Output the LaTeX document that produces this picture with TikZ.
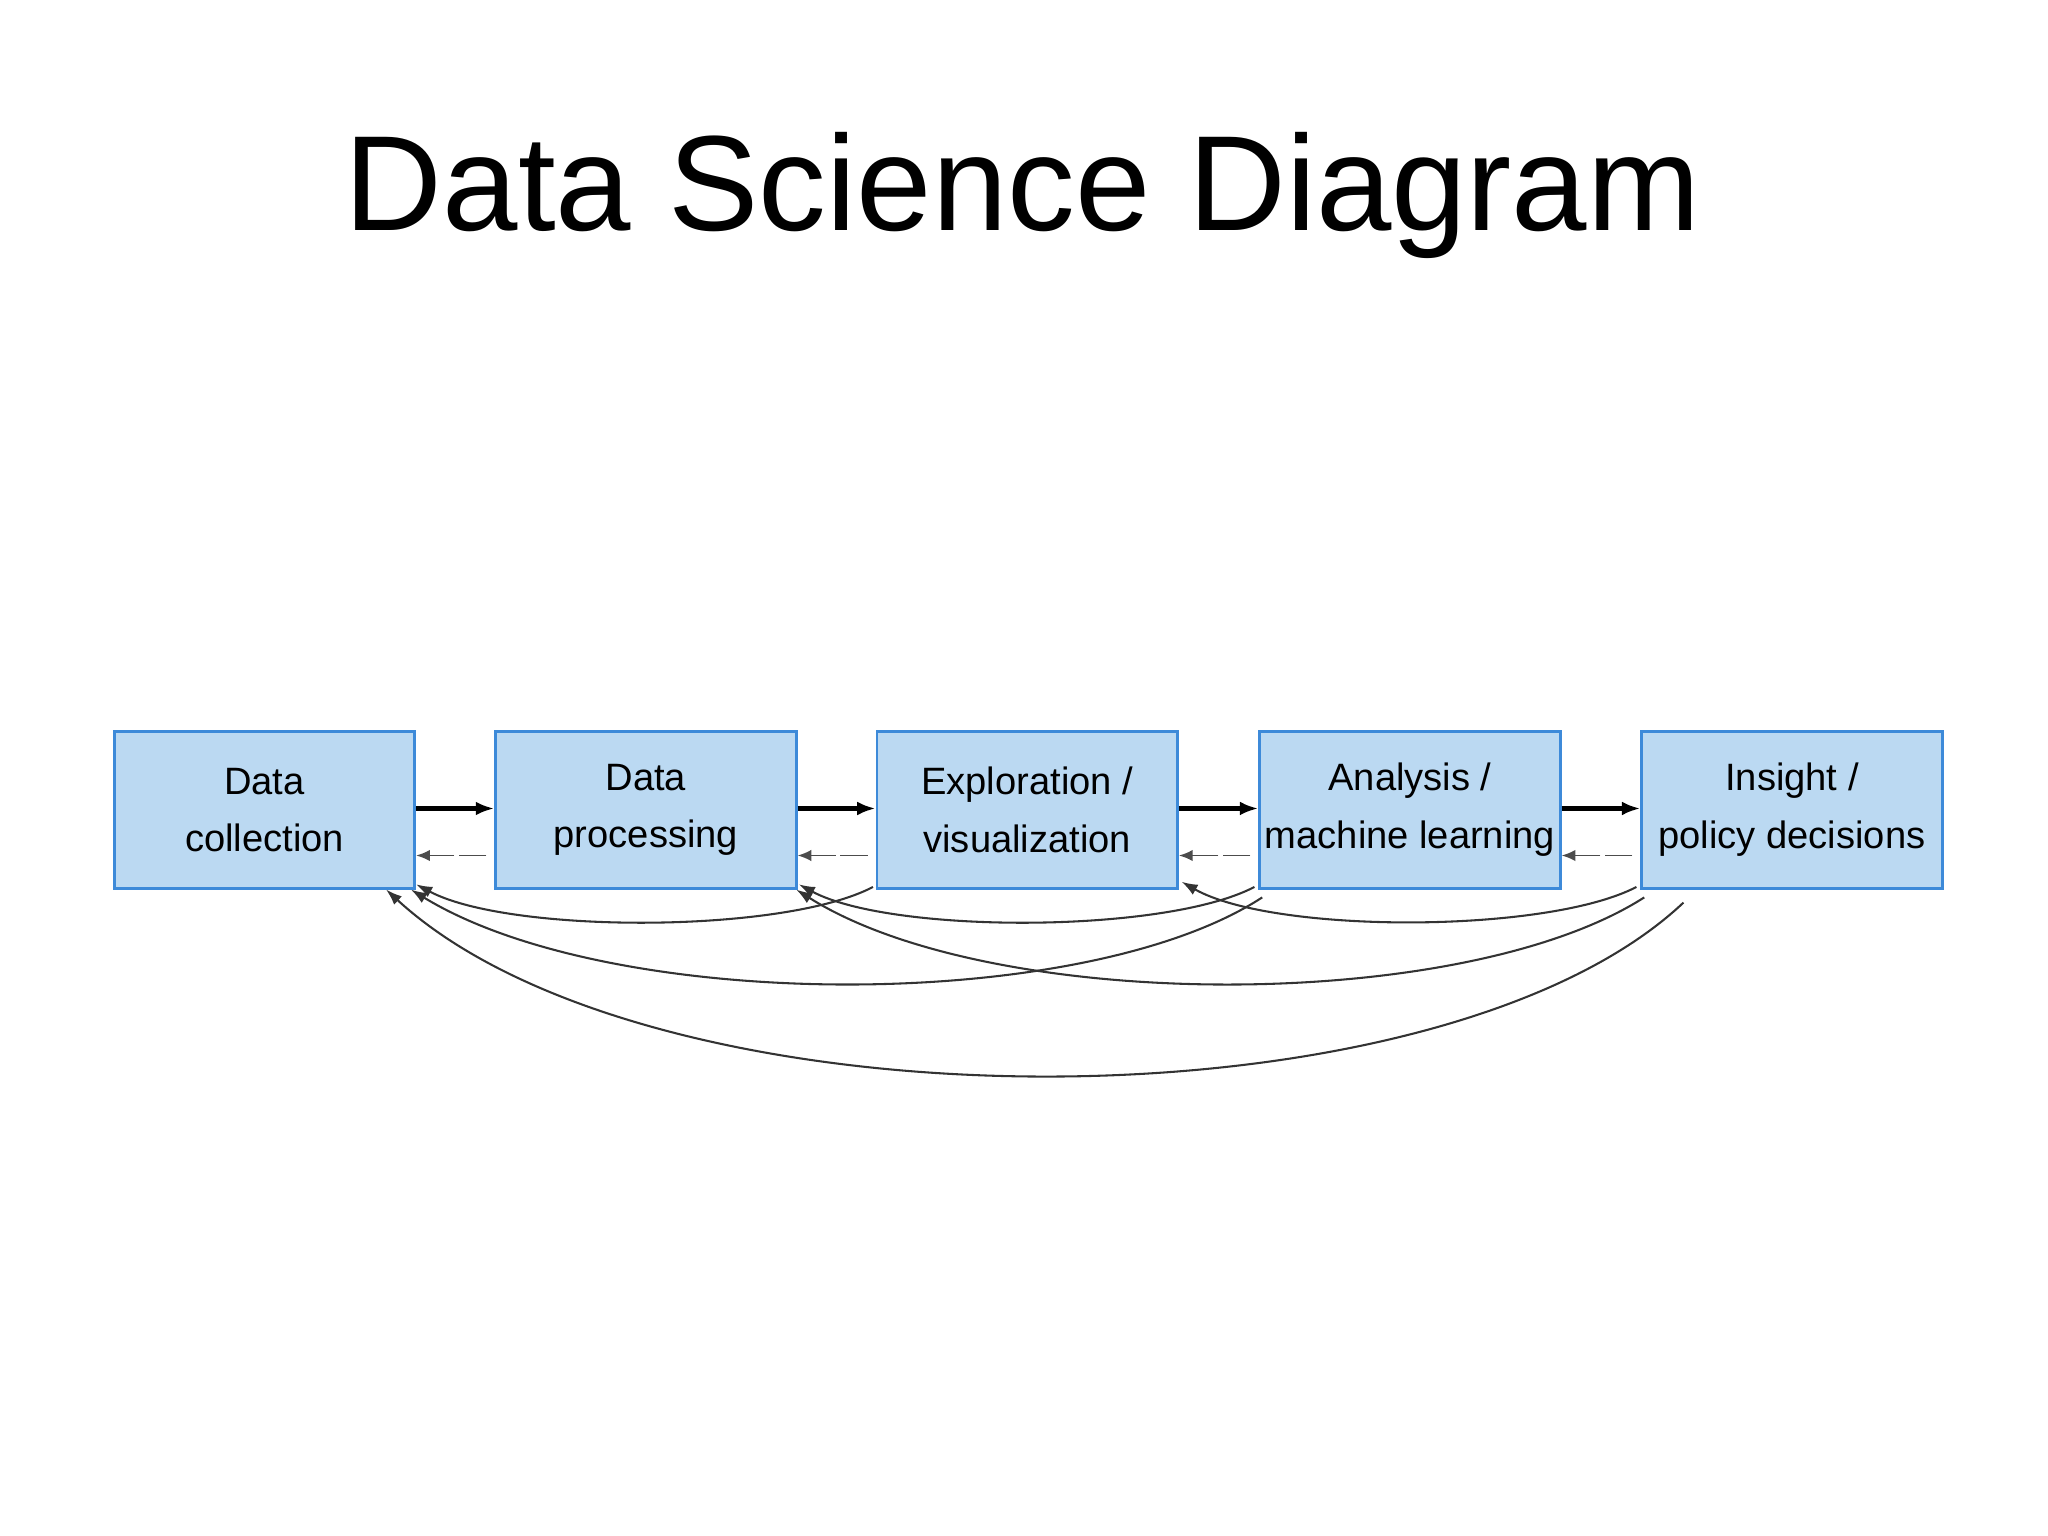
\documentclass[tikz,border=0pt]{standalone}
\usepackage{fontspec}
\setmainfont{Liberation Sans}
\usetikzlibrary{arrows.meta,calc}
\definecolor{boxfill}{HTML}{BBD9F2}
\definecolor{boxline}{HTML}{3D8AD9}
\begin{document}
\begin{tikzpicture}[x=0.01cm,y=-0.01cm,
  stage/.style={draw=boxline,fill=boxfill,line width=0.6pt,minimum width=2.3cm,minimum height=1.2cm,inner sep=0pt,align=center,font=\fontsize{8.3}{12.5}\selectfont},
  fwd/.style={-{Latex[length=4pt,width=3pt]},line width=1.3pt},
  back/.style={-{Latex[length=3pt,width=2.5pt]},line width=0.4pt,black!70,dash pattern=on 6pt off 1pt},
  loop/.style={-{Latex[length=3.5pt,width=2.5pt]},line width=0.45pt,black!80}]
\useasboundingbox (0,0) rectangle (1568,1176);
\node[font=\fontsize{29.5}{34}\selectfont] (title) at (783,150) {Data Science Diagram};
\node[stage] (a) at (202.5,620) {Data\\collection};
\node[stage] (b) at (494.5,620) {Data\\processing};
\node[stage] (c) at (786.5,620) {Exploration /\\visualization};
\node[stage] (d) at (1079.5,620) {Analysis /\\machine learning};
\node[stage] (e) at (1372,620) {Insight /\\policy decisions};
\foreach \u/\v in {a/b,b/c,c/d,d/e}{
  \draw[fwd] ($(\u.east)+(0,-1)$) -- ($(\v.west)+(0,-1)$);
  \draw[back] ($(\v.west)+(-6,35)$) -- ($(\u.east)+(0,35)$);
}
% short loops
\draw[loop] ($(c.south west)+(-2,-2)$) .. controls (600,715) and (390,715) .. ($(a.south east)+(0,-4)$);
\draw[loop] ($(d.south west)+(-3,-2)$) .. controls (892,715) and (682,715) .. ($(b.south east)+(1,-4)$);
\draw[loop] ($(e.south west)+(-3,-2)$) .. controls (1184,715) and (975,715) .. ($(c.south east)+(2,-6)$);
% medium loops
\draw[loop] ($(d.south west)+(3,6)$) .. controls (830,776) and (470,776) .. ($(a.south east)+(-4,0)$);
\draw[loop] ($(e.south west)+(3,6)$) .. controls (1120,776) and (760,776) .. ($(b.south east)+(-1,0)$);
% long loop
\draw[loop] ($(e.south west)+(33,10)$) .. controls (1100,869) and (500,869) .. ($(a.south east)+(-23,0)$);
\end{tikzpicture}
\end{document}
